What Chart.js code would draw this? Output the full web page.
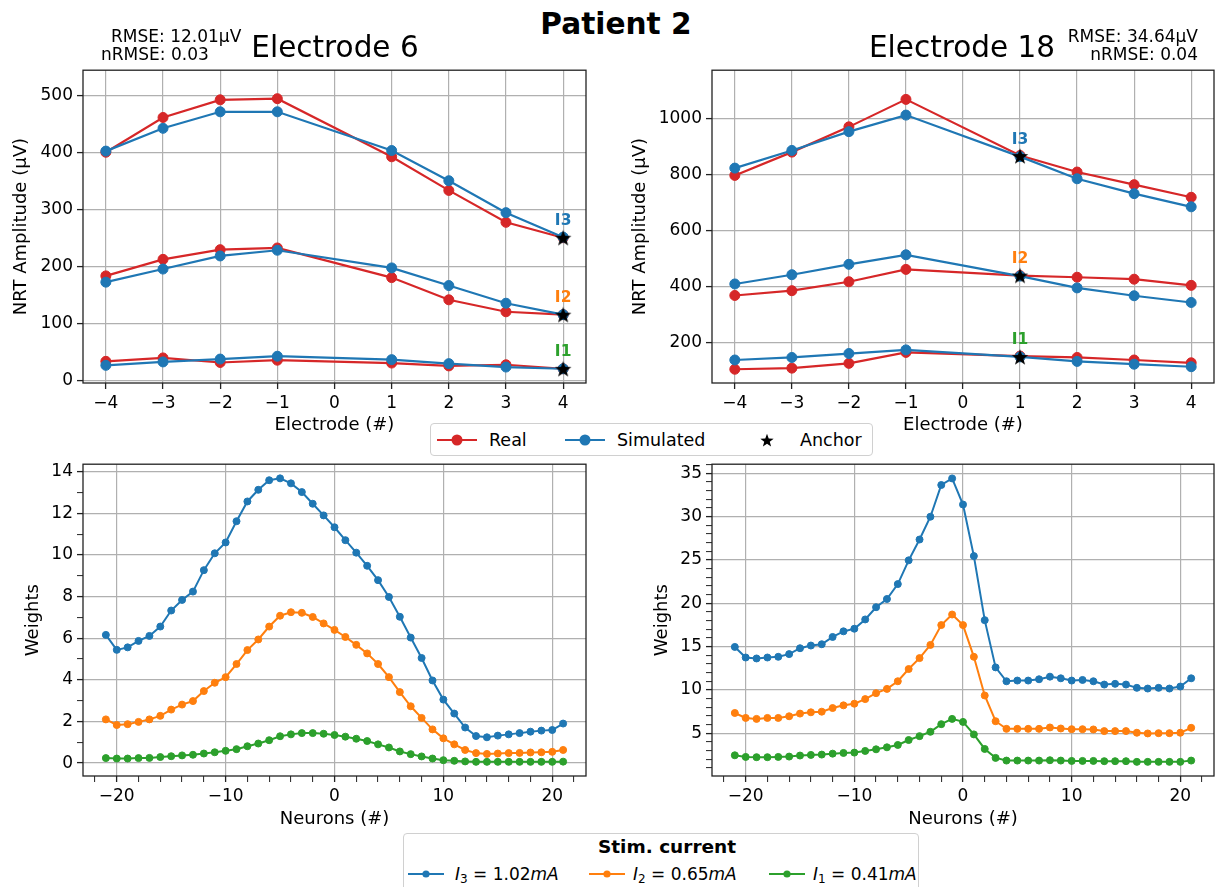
<!DOCTYPE html>
<html>
<head>
<meta charset="utf-8">
<script src="https://cdn.jsdelivr.net/npm/chart.js@4.4.1/dist/chart.umd.min.js"></script>
<style>
  body { margin: 0; background: #fff; font-family: 'DejaVu Sans', sans-serif; }
  #page { position: relative; width: 1223px; height: 887px; overflow: hidden; }
  canvas { position: absolute; }
  .txt { position: absolute; white-space: nowrap; line-height: 1; color: #000; }
  .box { position: absolute; border: 1px solid #d0d0d0; border-radius: 4px; background: #fff; }
  .box .lbl { position: absolute; font-size: 17px; line-height: 1; white-space: nowrap; }
  .box sub { font-size: 12px; vertical-align: -3px; line-height: 0; }
</style>
</head>
<body>
<div id="page">
  <canvas id="c1" width="600" height="384" style="left:0;top:56px"></canvas>
  <canvas id="c2" width="603" height="384" style="left:620px;top:56px"></canvas>
  <canvas id="c3" width="600" height="384" style="left:0;top:450px"></canvas>
  <canvas id="c4" width="603" height="384" style="left:620px;top:450px"></canvas>

  <div class="txt" style="left:616px;top:10px;font-size:29.6px;font-weight:bold;transform:translateX(-50%)">Patient 2</div>
  <div class="txt" style="left:335px;top:32.5px;font-size:29.5px;transform:translateX(-50%)">Electrode 6</div>
  <div class="txt" style="left:962px;top:32.5px;font-size:29.5px;transform:translateX(-50%)">Electrode 18</div>
  <div class="txt" style="left:111px;top:28.3px;font-size:17px">RMSE: 12.01µV</div>
  <div class="txt" style="left:101px;top:46.3px;font-size:17px">nRMSE: 0.03</div>
  <div class="txt" style="right:25px;top:28.3px;font-size:17px">RMSE: 34.64µV</div>
  <div class="txt" style="right:25px;top:46.3px;font-size:17px">nRMSE: 0.04</div>

  <div class="box" style="left:430px;top:423px;width:441px;height:31px">
    <svg style="position:absolute;left:5px;top:6px" width="42" height="20"><line x1="1" y1="10" x2="41" y2="10" stroke="#d62728" stroke-width="2.2"/><circle cx="21" cy="10" r="5.5" fill="#d62728"/></svg>
    <div class="lbl" style="left:58px;top:8px;font-size:17.5px">Real</div>
    <svg style="position:absolute;left:133px;top:6px" width="42" height="20"><line x1="1" y1="10" x2="41" y2="10" stroke="#1f77b4" stroke-width="2.2"/><circle cx="21" cy="10" r="5.5" fill="#1f77b4"/></svg>
    <div class="lbl" style="left:186px;top:8px;font-size:17.5px">Simulated</div>
    <canvas id="legStar" width="18" height="18" style="left:327px;top:7px"></canvas>
    <div class="lbl" style="left:369px;top:8px;font-size:17.5px">Anchor</div>
  </div>

  <div class="box" style="left:403px;top:833px;width:514px;height:80px">
    <div class="lbl" style="left:263px;top:4px;font-size:18.5px;font-weight:bold;transform:translateX(-50%)">Stim. current</div>
    <svg style="position:absolute;left:3px;top:30px" width="38" height="20"><line x1="1" y1="10" x2="37" y2="10" stroke="#1f77b4" stroke-width="2"/><circle cx="19" cy="10" r="3.6" fill="#1f77b4"/></svg>
    <div class="lbl" style="left:51px;top:32px"><i>I</i><sub>3</sub> = 1.02<i>mA</i></div>
    <svg style="position:absolute;left:184px;top:30px" width="38" height="20"><line x1="1" y1="10" x2="37" y2="10" stroke="#ff7f0e" stroke-width="2"/><circle cx="19" cy="10" r="3.6" fill="#ff7f0e"/></svg>
    <div class="lbl" style="left:229px;top:32px"><i>I</i><sub>2</sub> = 0.65<i>mA</i></div>
    <svg style="position:absolute;left:364px;top:30px" width="38" height="20"><line x1="1" y1="10" x2="37" y2="10" stroke="#2ca02c" stroke-width="2"/><circle cx="19" cy="10" r="3.6" fill="#2ca02c"/></svg>
    <div class="lbl" style="left:409px;top:32px"><i>I</i><sub>1</sub> = 0.41<i>mA</i></div>
  </div>
</div>
<script>
// ---- data ----
var electrodes = [-4, -3, -2, -1, 1, 2, 3, 4];

// electrode 6
var e6_real_i3 = [400, 461, 492, 494, 392, 333, 277, 250];
var e6_sim_i3  = [402, 442, 471, 471, 403, 350, 294, 251];
var e6_real_i2 = [183, 212, 229, 232, 180, 141, 120, 115];
var e6_sim_i2  = [172, 195, 218, 228, 197, 166, 135, 115];
var e6_real_i1 = [33, 39, 31, 35, 30, 25, 27, 20];
var e6_sim_i1  = [26, 32, 37, 42, 36, 29, 23, 20];
var e6_anchor_x = 4;
var e6_anchor = [250, 115, 20];

// electrode 18
var e18_real_i3 = [797, 880, 970, 1068, 868, 809, 764, 719];
var e18_sim_i3  = [823, 886, 953, 1012, 864, 785, 732, 685];
var e18_real_i2 = [369, 386, 418, 462, 440, 434, 427, 405];
var e18_sim_i2  = [410, 443, 480, 514, 438, 396, 368, 344];
var e18_real_i1 = [106, 110, 127, 166, 153, 148, 139, 129];
var e18_sim_i1  = [139, 148, 162, 175, 150, 134, 124, 115];
var e18_anchor_x = 1;
var e18_anchor = [866, 440, 150];

var anchorLabels = ['I3', 'I2', 'I1'];

var neurons = [-21, -20, -19, -18, -17, -16, -15, -14, -13, -12, -11, -10, -9, -8, -7, -6, -5, -4, -3, -2, -1,
               0, 1, 2, 3, 4, 5, 6, 7, 8, 9, 10, 11, 12, 13, 14, 15, 16, 17, 18, 19, 20, 21];

var w6_i3 = [6.16, 5.44, 5.56, 5.87, 6.11, 6.56, 7.33, 7.84, 8.24, 9.27, 10.08, 10.6, 11.62, 12.57, 13.13, 13.59, 13.68, 13.44, 13.02, 12.46, 11.9,
             11.33, 10.71, 10.11, 9.48, 8.79, 7.98, 7.03, 6.03, 5.05, 3.97, 3.05, 2.38, 1.71, 1.30, 1.24, 1.32, 1.38, 1.44, 1.51, 1.56, 1.59, 1.90];
var w6_i2 = [2.1, 1.83, 1.87, 1.98, 2.1, 2.27, 2.57, 2.81, 2.98, 3.46, 3.86, 4.13, 4.76, 5.43, 5.94, 6.56, 7.08, 7.25, 7.22, 7.02, 6.71,
             6.4, 6.06, 5.68, 5.27, 4.76, 4.13, 3.41, 2.73, 2.17, 1.62, 1.19, 0.9, 0.63, 0.48, 0.44, 0.46, 0.48, 0.49, 0.51, 0.52, 0.54, 0.63];
var w6_i1 = [0.24, 0.22, 0.22, 0.24, 0.25, 0.29, 0.33, 0.37, 0.40, 0.46, 0.52, 0.59, 0.67, 0.81, 0.94, 1.10, 1.29, 1.38, 1.44, 1.44, 1.41,
             1.35, 1.27, 1.17, 1.06, 0.90, 0.75, 0.56, 0.43, 0.32, 0.22, 0.14, 0.11, 0.08, 0.06, 0.06, 0.06, 0.06, 0.06, 0.06, 0.06, 0.06, 0.07];

var w18_i3 = [14.95, 13.73, 13.62, 13.73, 13.81, 14.12, 14.8, 15.11, 15.26, 16.1, 16.75, 17.05, 18.12, 19.53, 20.48, 22.2, 24.94, 27.34, 29.97, 33.63, 34.39,
              31.38, 25.43, 18.04, 12.59, 10.99, 11.07, 11.07, 11.22, 11.52, 11.33, 11.07, 11.14, 10.99, 10.61, 10.69, 10.61, 10.23, 10.15, 10.23, 10.15, 10.38, 11.33];
var w18_i2 = [7.33, 6.76, 6.65, 6.76, 6.76, 6.95, 7.26, 7.41, 7.48, 7.9, 8.21, 8.4, 8.93, 9.62, 10.11, 10.99, 12.4, 13.66, 15.18, 17.47, 18.69,
              17.47, 13.81, 9.35, 6.38, 5.5, 5.5, 5.5, 5.5, 5.66, 5.54, 5.46, 5.46, 5.43, 5.24, 5.24, 5.24, 5.05, 4.97, 5.0, 5.0, 5.05, 5.62];
var w18_i1 = [2.45, 2.26, 2.23, 2.23, 2.26, 2.3, 2.42, 2.49, 2.53, 2.64, 2.72, 2.76, 2.95, 3.14, 3.37, 3.64, 4.21, 4.66, 5.16, 6.04, 6.65,
              6.3, 4.86, 3.18, 2.15, 1.84, 1.84, 1.84, 1.84, 1.88, 1.84, 1.8, 1.8, 1.8, 1.77, 1.77, 1.77, 1.69, 1.69, 1.69, 1.69, 1.69, 1.84];

// tick positions
var elecTicks = [-4, -3, -2, -1, 0, 1, 2, 3, 4];
var e6_yTicks = [0, 100, 200, 300, 400, 500];
var e18_yTicks = [200, 400, 600, 800, 1000];
var neuronMajor = [-20, -10, 0, 10, 20];
var neuronMinor = [-22, -20, -18, -16, -14, -12, -10, -8, -6, -4, -2, 0, 2, 4, 6, 8, 10, 12, 14, 16, 18, 20, 22];
var w6_major = [0, 2, 4, 6, 8, 10, 12, 14];
var w6_minor = [0, 1, 2, 3, 4, 5, 6, 7, 8, 9, 10, 11, 12, 13, 14];
var w18_major = [5, 10, 15, 20, 25, 30, 35];
var w18_minor = [1, 2, 3, 4, 5, 6, 7, 8, 9, 10, 11, 12, 13, 14, 15, 16, 17, 18, 19, 20, 21, 22, 23, 24, 25, 26, 27, 28, 29, 30, 31, 32, 33, 34, 35, 36];

var FONT = "'DejaVu Sans', sans-serif";
var RED = '#d62728', BLUE = '#1f77b4', ORANGE = '#ff7f0e', GREEN = '#2ca02c';
var anchorColors = [BLUE, ORANGE, GREEN];

// filled star marker
function drawStar(c, cx, cy, R, r) {
  c.beginPath();
  for (var i = 0; i < 10; i++) {
    var rad = i % 2 ? r : R;
    var a = -Math.PI / 2 + i * Math.PI / 5;
    c.lineTo(cx + rad * Math.cos(a), cy + rad * Math.sin(a));
  }
  c.closePath();
  c.fill();
}
var starImg = document.createElement('canvas');
starImg.width = 18; starImg.height = 18;
var sc = starImg.getContext('2d');
sc.fillStyle = '#000';
drawStar(sc, 9, 9.8, 8.6, 3.5);
var lc = document.getElementById('legStar').getContext('2d');
lc.fillStyle = '#000';
drawStar(lc, 9, 9.8, 7, 2.9);

// matplotlib-like full box around the plot
var framePlugin = {
  id: 'frame',
  afterDatasetsDraw: function (chart) {
    var a = chart.chartArea, ctx = chart.ctx;
    ctx.save();
    ctx.strokeStyle = '#222';
    ctx.lineWidth = 1.3;
    ctx.strokeRect(a.left, a.top, a.right - a.left, a.bottom - a.top);
    ctx.restore();
  }
};

var anchorText = {
  id: 'anchorText',
  afterDatasetsDraw: function (chart) {
    var meta = chart.getDatasetMeta(chart.data.datasets.length - 1);
    var ctx = chart.ctx;
    ctx.save();
    ctx.font = 'bold 15.5px ' + FONT;
    ctx.textAlign = 'center';
    ctx.textBaseline = 'middle';
    meta.data.forEach(function (pt, i) {
      ctx.fillStyle = anchorColors[i];
      ctx.fillText(anchorLabels[i], pt.x, pt.y - 16.5);
    });
    ctx.restore();
  }
};

function pts(xs, ys) {
  return xs.map(function (x, i) { return { x: x, y: ys[i] }; });
}

function lineSet(xs, ys, color, order, radius, width) {
  return {
    data: pts(xs, ys),
    borderColor: color, backgroundColor: color,
    pointBackgroundColor: color, pointBorderColor: color,
    borderWidth: width, pointRadius: radius, pointBorderWidth: 1,
    tension: 0, order: order
  };
}

function scale(pos, min, max, ticks, majors, title, size, titlePad) {
  return {
    type: 'linear', position: pos, min: min, max: max,
    afterBuildTicks: function (s) { s.ticks = ticks.map(function (v) { return { value: v }; }); },
    afterFit: function (s) { if (pos === 'left') s.width = size; else s.height = size; },
    grid: {
      color: function (c) { return c.tick && majors.indexOf(c.tick.value) >= 0 ? '#b0b0b0' : 'rgba(0,0,0,0)'; },
      lineWidth: 1.2, tickLength: 6, tickColor: '#222',
      tickWidth: function (c) { return c.tick && majors.indexOf(c.tick.value) >= 0 ? 1.3 : 1; }
    },
    border: { display: false },
    ticks: {
      autoSkip: false, maxRotation: 0, padding: 4, color: '#000',
      font: { family: FONT, size: 17 },
      callback: function (v) { return majors.indexOf(v) >= 0 ? String(v).replace('-', '\u2212') : ''; }
    },
    title: {
      display: true, text: title, color: '#000', font: { family: FONT, size: 18 },
      padding: pos === 'left' ? { top: titlePad, bottom: 0 } : { top: 0, bottom: titlePad }
    }
  };
}

function baseOptions(padRight, xScale, yScale) {
  return {
    responsive: false, animation: false, devicePixelRatio: 1,
    layout: { padding: { top: 12, right: padRight, left: 0, bottom: 0 } },
    plugins: { legend: { display: false }, tooltip: { enabled: false } },
    scales: { x: xScale, y: yScale }
  };
}

function electrodeChart(id, sets, anchorX, anchorY, yMin, yMax, yTicks, yWidth, padRight, yTitlePad) {
  var ds = [
    lineSet(electrodes, sets[0], RED, 3, 5, 2.2),
    lineSet(electrodes, sets[1], RED, 3, 5, 2.2),
    lineSet(electrodes, sets[2], RED, 3, 5, 2.2),
    lineSet(electrodes, sets[3], BLUE, 2, 5, 2.2),
    lineSet(electrodes, sets[4], BLUE, 2, 5, 2.2),
    lineSet(electrodes, sets[5], BLUE, 2, 5, 2.2),
    {
      data: anchorY.map(function (y) { return { x: anchorX, y: y }; }),
      showLine: false, pointStyle: starImg, pointRadius: 8, order: 0
    }
  ];
  new Chart(document.getElementById(id), {
    type: 'line',
    data: { datasets: ds },
    options: baseOptions(padRight,
      scale('bottom', -4.4, 4.4, elecTicks, elecTicks, 'Electrode (#)', 57, 4.2),
      scale('left', yMin, yMax, yTicks, yTicks, 'NRT Amplitude (\u03bcV)', yWidth, yTitlePad)),
    plugins: [framePlugin, anchorText]
  });
}

function weightChart(id, i3, i2, i1, yMin, yMax, yMinor, yMajor, yWidth, padRight, yTitlePad) {
  new Chart(document.getElementById(id), {
    type: 'line',
    data: {
      datasets: [
        lineSet(neurons, i3, BLUE, 1, 3.5, 2),
        lineSet(neurons, i2, ORANGE, 1, 3.5, 2),
        lineSet(neurons, i1, GREEN, 1, 3.5, 2)
      ]
    },
    options: baseOptions(padRight,
      scale('bottom', -23.1, 23.1, neuronMinor, neuronMajor, 'Neurons (#)', 58, 4.2),
      scale('left', yMin, yMax, yMinor, yMajor, 'Weights', yWidth, yTitlePad)),
    plugins: [framePlugin]
  });
}

electrodeChart('c1', [e6_real_i3, e6_real_i2, e6_real_i1, e6_sim_i3, e6_sim_i2, e6_sim_i1],
  e6_anchor_x, e6_anchor, -5, 544, e6_yTicks, 83, 14, 10.2);
electrodeChart('c2', [e18_real_i3, e18_real_i2, e18_real_i1, e18_sim_i3, e18_sim_i2, e18_sim_i1],
  e18_anchor_x, e18_anchor, 57, 1172, e18_yTicks, 92, 9, 9.2);
weightChart('c3', w6_i3, w6_i2, w6_i1, -0.62, 14.36, w6_minor, w6_major, 83, 14, 22.8);
weightChart('c4', w18_i3, w18_i2, w18_i1, 0.06, 36.03, w18_minor, w18_major, 92, 9, 31.7);
</script>
</body>
</html>
